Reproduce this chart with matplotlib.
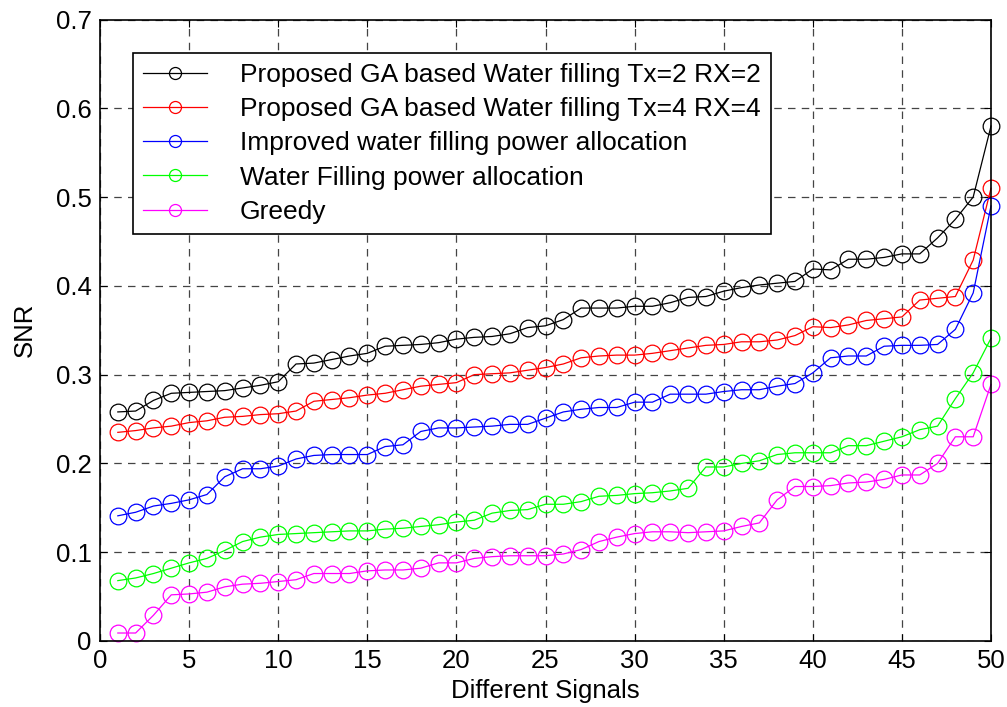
import matplotlib
matplotlib.use("Agg")
import matplotlib.pyplot as plt
import numpy as np

signals = list(range(1, 51))

ga_2x2 = [0.258, 0.259, 0.271, 0.279, 0.280, 0.281, 0.282, 0.285, 0.288, 0.292,
          0.312, 0.313, 0.317, 0.321, 0.324, 0.332, 0.333, 0.334, 0.336, 0.340,
          0.342, 0.343, 0.346, 0.353, 0.355, 0.362, 0.375, 0.375, 0.375, 0.377,
          0.377, 0.381, 0.387, 0.388, 0.394, 0.398, 0.401, 0.403, 0.405, 0.419,
          0.418, 0.430, 0.430, 0.432, 0.436, 0.436, 0.454, 0.475, 0.500, 0.580]

ga_4x4 = [0.235, 0.237, 0.240, 0.242, 0.246, 0.248, 0.252, 0.253, 0.255, 0.256,
          0.259, 0.270, 0.272, 0.274, 0.277, 0.279, 0.283, 0.287, 0.289, 0.291,
          0.300, 0.301, 0.302, 0.305, 0.308, 0.312, 0.319, 0.321, 0.322, 0.322,
          0.324, 0.327, 0.330, 0.333, 0.334, 0.337, 0.337, 0.339, 0.344, 0.354,
          0.353, 0.356, 0.361, 0.363, 0.365, 0.384, 0.386, 0.388, 0.429, 0.510]

improved_wf = [0.141, 0.145, 0.152, 0.155, 0.159, 0.165, 0.185, 0.194, 0.194, 0.197,
               0.205, 0.209, 0.210, 0.210, 0.210, 0.219, 0.221, 0.236, 0.240, 0.240,
               0.241, 0.242, 0.244, 0.244, 0.251, 0.258, 0.261, 0.263, 0.263, 0.269,
               0.269, 0.278, 0.278, 0.278, 0.281, 0.283, 0.283, 0.287, 0.290, 0.302,
               0.319, 0.321, 0.321, 0.332, 0.333, 0.333, 0.334, 0.351, 0.392, 0.490]

water_filling = [0.068, 0.071, 0.076, 0.082, 0.088, 0.093, 0.102, 0.112, 0.117, 0.120,
                 0.121, 0.122, 0.123, 0.124, 0.124, 0.126, 0.127, 0.129, 0.131, 0.134,
                 0.136, 0.144, 0.147, 0.148, 0.154, 0.154, 0.157, 0.163, 0.164, 0.166,
                 0.167, 0.169, 0.172, 0.196, 0.196, 0.200, 0.203, 0.210, 0.212, 0.212,
                 0.212, 0.220, 0.220, 0.225, 0.230, 0.238, 0.242, 0.273, 0.302, 0.341]

greedy = [0.009, 0.009, 0.029, 0.052, 0.053, 0.055, 0.061, 0.064, 0.065, 0.067,
          0.069, 0.076, 0.076, 0.076, 0.079, 0.080, 0.080, 0.082, 0.088, 0.088,
          0.093, 0.095, 0.096, 0.096, 0.096, 0.098, 0.103, 0.112, 0.117, 0.121,
          0.123, 0.123, 0.122, 0.123, 0.124, 0.129, 0.133, 0.159, 0.174, 0.174,
          0.175, 0.178, 0.179, 0.182, 0.187, 0.187, 0.200, 0.230, 0.230, 0.289]

series_labels = ["Proposed GA based Water filling Tx=2 RX=2",
                 "Proposed GA based Water filling Tx=4 RX=4",
                 "Improved water filling power allocation",
                 "Water Filling power allocation",
                 "Greedy"]
series_colors = ["#000000", "#ff0000", "#0000ff", "#00ff00", "#ff00ff"]

x_ticks = list(range(0, 51, 5))
y_ticks = [0, 0.1, 0.2, 0.3, 0.4, 0.5, 0.6, 0.7]
y_tick_labels = ["0", "0.1", "0.2", "0.3", "0.4", "0.5", "0.6", "0.7"]

plt.rcParams['font.family'] = ['Liberation Sans', 'DejaVu Sans']
FS = 18.5
LFS = 19

fig = plt.figure(figsize=(10.07, 7.07), dpi=100)
ax = fig.add_axes([100/1007, 66/707, 891/1007, 621.5/707])

all_series = [ga_2x2, ga_4x4, improved_wf, water_filling, greedy]
for vals, lab, col in zip(all_series, series_labels, series_colors):
    ax.plot(signals, vals, color=col, linewidth=0.9, marker='o', markersize=12,
            markerfacecolor='none', markeredgecolor=col, markeredgewidth=0.9,
            label=lab, clip_on=False, zorder=3)

ax.set_xlim(0, 50)
ax.set_ylim(0, 0.7)
ax.set_xticks(x_ticks)
ax.set_yticks(y_ticks)
ax.set_yticklabels(y_tick_labels)
ax.tick_params(direction='in', top=True, right=True, length=5, width=0.8,
               labelsize=FS, pad=6)
ax.grid(True, color='#444444', linestyle=(0, (6, 5)), linewidth=0.9)
ax.set_axisbelow(True)
for sp in ax.spines.values():
    sp.set_linewidth(1.2)
    sp.set_zorder(5)

ax.set_xlabel("Different Signals", fontsize=FS, labelpad=4)
ax.set_ylabel("SNR", fontsize=FS, labelpad=14)

leg = ax.legend(loc='upper left', bbox_to_anchor=((133-100)/891, (641-53)/621.5),
                borderaxespad=0, fontsize=LFS, markerscale=0.72, handlelength=2.43,
                handletextpad=1.25, labelspacing=0.39, borderpad=0.37,
                fancybox=False, frameon=True, framealpha=1, edgecolor='black')
leg.get_frame().set_linewidth(1.2)
leg.set_zorder(10)

fig.savefig("out.png", dpi=100)
